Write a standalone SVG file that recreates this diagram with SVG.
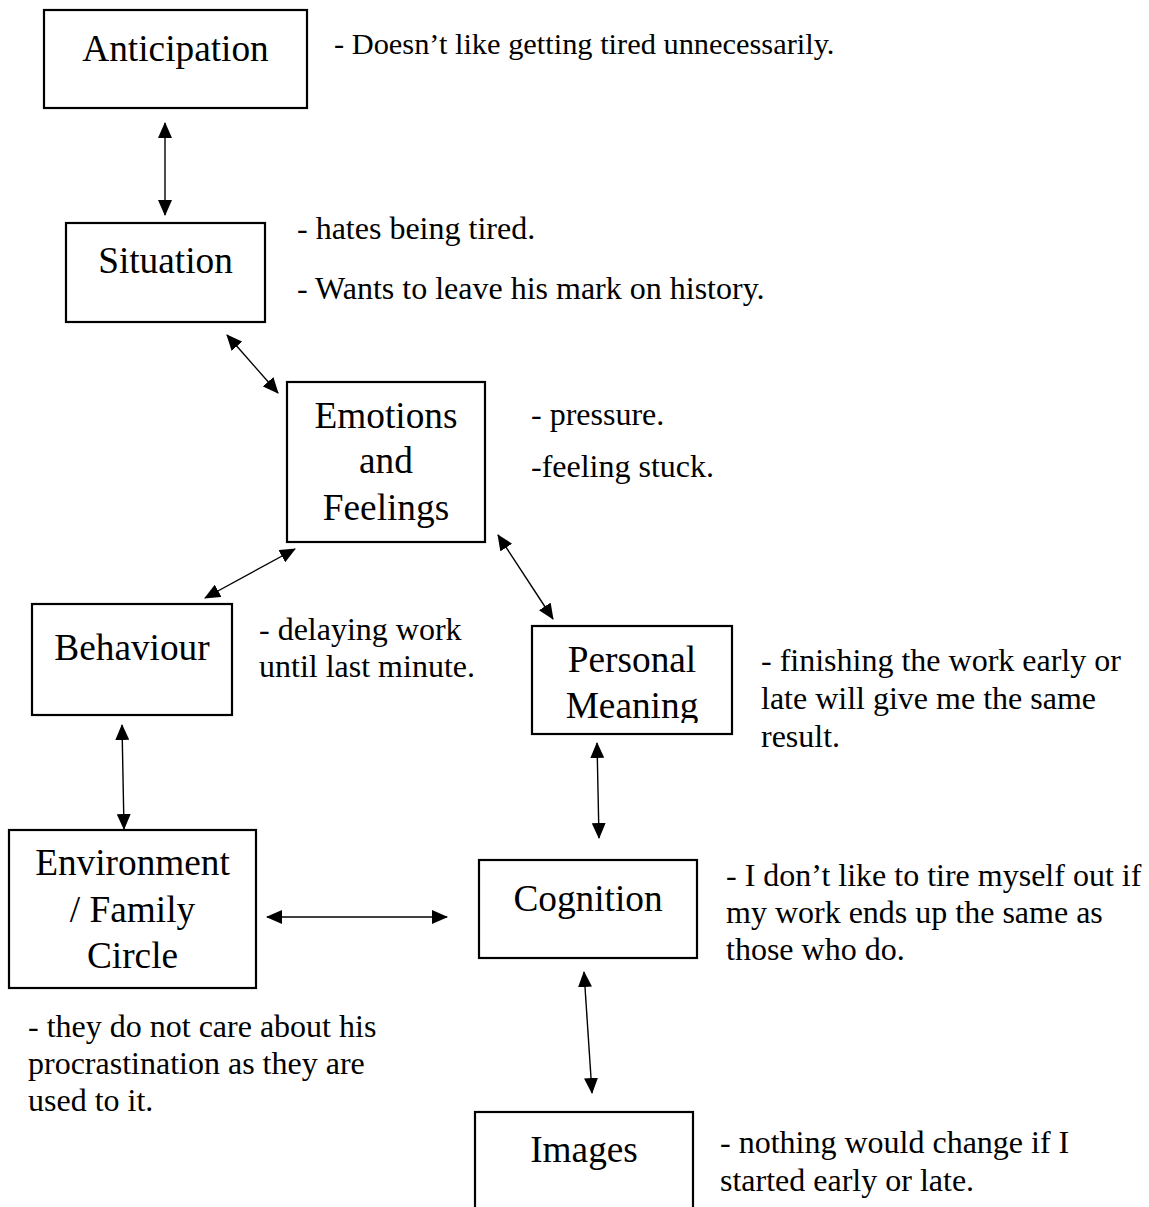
<svg xmlns="http://www.w3.org/2000/svg" width="1149" height="1207" viewBox="0 0 1149 1207">
<style>
  .box{fill:#fff;stroke:#000;stroke-width:2.2}
  .lbl{font-family:"Liberation Serif","Times New Roman",serif;font-size:37.3px;fill:#000;text-anchor:middle}
  .note{font-family:"Liberation Serif","Times New Roman",serif;font-size:32px;fill:#000}
  .conn line{stroke:#000;stroke-width:1.4;marker-start:url(#ah);marker-end:url(#ah)}
</style>
<defs>
  <marker id="ah" viewBox="0 0 16 14" refX="15" refY="7" markerWidth="16" markerHeight="14" markerUnits="userSpaceOnUse" orient="auto-start-reverse">
    <path d="M0,0 L16,7 L0,14 z" fill="#000"/>
  </marker>
  <clipPath id="pmclip"><rect x="532" y="626" width="200" height="97"/></clipPath>
</defs>
<rect width="1149" height="1207" fill="#fff"/>

<g id="connectors" class="conn">
  <line x1="165" y1="123" x2="165" y2="215"/>
  <line x1="227" y1="335" x2="278" y2="393"/>
  <line x1="295" y1="549" x2="205" y2="598"/>
  <line x1="498" y1="535" x2="553" y2="619"/>
  <line x1="122" y1="725" x2="124" y2="829"/>
  <line x1="597" y1="743" x2="599" y2="838"/>
  <line x1="267" y1="917" x2="447" y2="917"/>
  <line x1="584" y1="972" x2="592" y2="1093"/>
</g>

<g id="anticipation">
  <rect class="box" x="44" y="10" width="263" height="98"/>
  <text class="lbl" x="175.5" y="61">Anticipation</text>
</g>
<g id="situation">
  <rect class="box" x="66" y="223" width="199" height="99"/>
  <text class="lbl" x="165.5" y="273">Situation</text>
</g>
<g id="emotions">
  <rect class="box" x="287" y="382" width="198" height="160"/>
  <text class="lbl" x="386" y="428">Emotions</text>
  <text class="lbl" x="386" y="473">and</text>
  <text class="lbl" x="386" y="520">Feelings</text>
</g>
<g id="behaviour">
  <rect class="box" x="32" y="604" width="200" height="111"/>
  <text class="lbl" x="132" y="660">Behaviour</text>
</g>
<g id="personal-meaning">
  <rect class="box" x="532" y="626" width="200" height="108"/>
  <g clip-path="url(#pmclip)">
    <text class="lbl" x="632" y="672">Personal</text>
    <text class="lbl" x="632" y="718">Meaning</text>
  </g>
</g>
<g id="environment">
  <rect class="box" x="9" y="830" width="247" height="158"/>
  <text class="lbl" x="132.5" y="875">Environment</text>
  <text class="lbl" x="132.5" y="922">/ Family</text>
  <text class="lbl" x="132.5" y="968">Circle</text>
</g>
<g id="cognition">
  <rect class="box" x="479" y="860" width="218" height="98"/>
  <text class="lbl" x="588" y="911">Cognition</text>
</g>
<g id="images">
  <rect class="box" x="475" y="1112" width="218" height="110"/>
  <text class="lbl" x="584" y="1162">Images</text>
</g>

<g id="notes">
  <text class="note" x="334" y="54" style="font-size:30.4px">- Doesn’t like getting tired unnecessarily.</text>
  <text class="note" x="297" y="239">- hates being tired.</text>
  <text class="note" x="297" y="299">- Wants to leave his mark on history.</text>
  <text class="note" x="531" y="425">- pressure.</text>
  <text class="note" x="531" y="477">-feeling stuck.</text>
  <text class="note" x="259" y="640">- delaying work</text>
  <text class="note" x="259" y="677">until last minute.</text>
  <text class="note" x="761" y="671">- finishing the work early or</text>
  <text class="note" x="761" y="709">late will give me the same</text>
  <text class="note" x="761" y="747">result.</text>
  <text class="note" x="726" y="886">- I don’t like to tire myself out if</text>
  <text class="note" x="726" y="923">my work ends up the same as</text>
  <text class="note" x="726" y="960">those who do.</text>
  <text class="note" x="28" y="1037">- they do not care about his</text>
  <text class="note" x="28" y="1074">procrastination as they are</text>
  <text class="note" x="28" y="1111">used to it.</text>
  <text class="note" x="720" y="1153">- nothing would change if I</text>
  <text class="note" x="720" y="1191">started early or late.</text>
</g>
</svg>
